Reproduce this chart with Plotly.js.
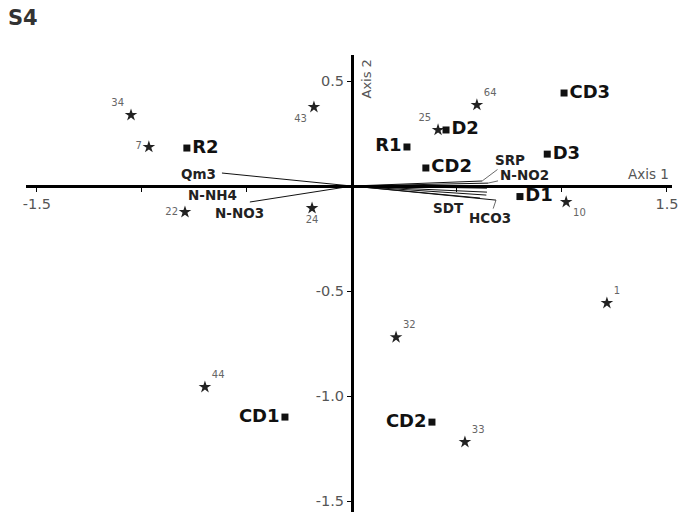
<!DOCTYPE html>
<html>
<head>
<meta charset="utf-8">
<script src="https://cdn.plot.ly/plotly-3.0.1.min.js"></script>
<style>html,body{margin:0;padding:0;background:#fff;}#chart{width:681px;height:514px;}</style>
</head>
<body>
<div id="chart"></div>
<script>
// Sites (squares)
const siteNames = ['R2', 'R1', 'CD2', 'D2', 'CD3', 'D3', 'D1', 'CD1', 'CD2'];
const siteX = [-0.786, 0.262, 0.352, 0.448, 1.010, 0.930, 0.800, -0.319, 0.381];
const siteY = [0.181, 0.186, 0.086, 0.267, 0.443, 0.152, -0.050, -1.100, -1.124];
const sitePos = ['middle right', 'middle left', 'middle right', 'middle right', 'middle right', 'middle right', 'middle right', 'middle left', 'middle left'];

// Samples (stars)
const sampleNames = ['34', '7', '43', '22', '24', '25', '64', '10', '1', '32', '33', '44'];
const sampleX = [-1.052, -0.967, -0.181, -0.795, -0.190, 0.410, 0.595, 1.020, 1.214, 0.210, 0.538, -0.700];
const sampleY = [0.338, 0.186, 0.376, -0.124, -0.105, 0.267, 0.386, -0.076, -0.557, -0.720, -1.219, -0.957];
const samplePos = ['top left', 'middle left', 'bottom left', 'middle left', 'bottom center', 'top left', 'top right', 'bottom right', 'top right', 'top right', 'top right', 'top right'];

// Environmental variables (biplot arrows)
const varNames = ['Qm3', 'N-NH4', 'N-NO3', 'SRP', 'N-NO2', '', '', '', 'SDT', 'HCO3'];
const varX = [-0.619, -0.567, -0.486, 0.620, 0.648, 0.643, 0.643, 0.640, 0.610, 0.686];
const varY = [0.062, -0.002, -0.076, 0.024, 0.014, -0.010, -0.029, -0.043, -0.057, -0.067];

// Axis ticks
const xTickVals = [-1.5, -1.0, -0.5, 0.5, 1.0, 1.5];
const xTickText = ['-1.5', '', '', '', '', '1.5'];
const yTickVals = [0.5, -0.5, -1.0, -1.5];
const yTickText = ['0.5', '-0.5', '-1.0', '-1.5'];

const xRange = [-1.552, 1.524];
const yRange = [-1.552, 0.624];

const FONT = 'DejaVu Sans, Verdana, sans-serif';

// label placement (pixel offsets) for variables
const varLabelStyle = {
  'Qm3':   {xshift: -23, yshift: -1},
  'N-NH4': {xshift: -20, yshift: -9},
  'N-NO3': {xshift: -10, yshift: -11},
  'SRP':   {ax: 28, ay: -21},
  'N-NO2': {ax: 36, ay: -8},
  'SDT':   {xshift: -32, yshift: -10},
  'HCO3':  {ax: -6, ay: 18}
};

const ax_ = [], ay_ = [];
varX.forEach((v, i) => { ax_.push(0, v, null); ay_.push(0, varY[i], null); });

const traces = [
  {
    type: 'scatter', mode: 'lines', x: ax_, y: ay_,
    line: {color: '#111', width: 1}, hoverinfo: 'skip', showlegend: false
  },
  {
    type: 'scatter', mode: 'markers+text', x: sampleX, y: sampleY, text: sampleNames,
    textposition: samplePos,
    textfont: {family: FONT, size: 10, color: '#666'},
    marker: {symbol: 'star', size: 9.5, color: '#222'},
    showlegend: false
  },
  {
    type: 'scatter', mode: 'markers+text', x: siteX, y: siteY, text: siteNames,
    textposition: sitePos,
    textfont: {family: FONT, size: 18, color: '#111', weight: 'bold'},
    marker: {symbol: 'square', size: 7, color: '#111'},
    showlegend: false
  }
];

const annotations = [];
varNames.forEach((n, i) => {
  if (!n) return;
  const s = varLabelStyle[n] || {};
  const a = {
    x: varX[i], y: varY[i], xref: 'x', yref: 'y', text: '<b>' + n + '</b>',
    font: {family: FONT, size: 13.5, color: '#222'}
  };
  if (s.ax !== undefined) {
    a.showarrow = true; a.ax = s.ax; a.ay = s.ay; a.arrowhead = 0; a.arrowwidth = 0.8;
    a.arrowcolor = '#444'; a.standoff = 0; a.startstandoff = 0;
  } else {
    a.showarrow = false; a.xshift = s.xshift; a.yshift = s.yshift;
  }
  annotations.push(a);
});
annotations.push({
  x: 1.5, y: 0, xref: 'x', yref: 'y', text: 'Axis 1', showarrow: false,
  xanchor: 'right', yanchor: 'bottom', xshift: 4, yshift: 2,
  font: {family: FONT, size: 13.5, color: '#555'}
});
annotations.push({
  x: 0, y: 0.5, xref: 'x', yref: 'y', text: 'Axis 2', showarrow: false, textangle: -90,
  xanchor: 'left', yanchor: 'middle', xshift: 5, yshift: 2,
  font: {family: FONT, size: 13, color: '#555'}
});

const layout = {
  width: 681, height: 514,
  paper_bgcolor: '#fff', plot_bgcolor: '#fff',
  margin: {l: 26, r: 9, t: 55, b: 2, pad: 0},
  title: {
    text: '<b>S4</b>', xref: 'container', yref: 'container',
    x: 8 / 681, xanchor: 'left', y: 1 - 10 / 514, yanchor: 'top',
    font: {family: FONT, size: 21, color: '#333'}
  },
  xaxis: {
    range: xRange, anchor: 'free', position: (0 - yRange[0]) / (yRange[1] - yRange[0]),
    showline: true, linecolor: '#000', linewidth: 3,
    showgrid: false, zeroline: false,
    ticks: 'outside', ticklen: 4, tickwidth: 1, tickcolor: '#000',
    tickvals: xTickVals, ticktext: xTickText,
    tickfont: {family: FONT, size: 14.5, color: '#555'}
  },
  yaxis: {
    range: yRange, anchor: 'free', position: (0 - xRange[0]) / (xRange[1] - xRange[0]),
    showline: true, linecolor: '#000', linewidth: 3,
    showgrid: false, zeroline: false,
    ticks: 'outside', ticklen: 4, tickwidth: 1, tickcolor: '#000',
    tickvals: yTickVals, ticktext: yTickText,
    tickfont: {family: FONT, size: 14.5, color: '#555'}
  },
  annotations: annotations
};

Plotly.newPlot('chart', traces, layout, {staticPlot: true, displayModeBar: false});
</script>
</body>
</html>
